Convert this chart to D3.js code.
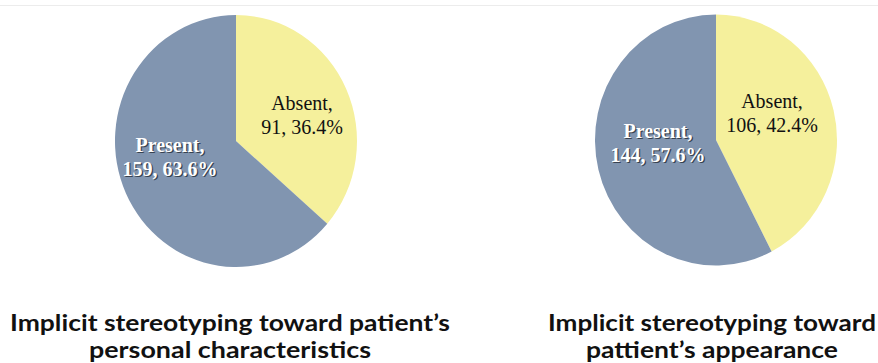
<!DOCTYPE html>
<html>
<head>
<meta charset="utf-8">
<script src="https://cdn.jsdelivr.net/npm/d3@7"></script>
<style>
  html, body { margin: 0; padding: 0; background: #fff; }
  svg { display: block; }
</style>
</head>
<body>
<svg id="chart" width="878" height="363"></svg>
<script>
const categories = ["Absent", "Present"];
const chart1Values = [91, 159];
const chart1Percents = ["36.4%", "63.6%"];
const chart2Values = [106, 144];
const chart2Percents = ["42.4%", "57.6%"];
const chart1Title = ["Implicit stereotyping toward patient\u2019s", "personal characteristics"];
const chart2Title = ["Implicit stereotyping toward", "pattient\u2019s appearance"];
const colors = ["#f5f09c", "#8195b0"];

const svg = d3.select("#chart");

svg.append("line").attr("x1", 0).attr("x2", 878).attr("y1", 5.5).attr("y2", 5.5)
  .attr("stroke", "#ececec").attr("stroke-width", 1);

const pies = [
  { values: chart1Values, pcts: chart1Percents, title: chart1Title, cx: 236, cy: 141, rx: 121, ry: 126,
    labelPos: [[302, 110], [170, 152]], titleX: 230, titleW: [440, 282] },
  { values: chart2Values, pcts: chart2Percents, title: chart2Title, cx: 716, cy: 140, rx: 121, ry: 125.5,
    labelPos: [[772, 108], [658, 138]], titleX: 712, titleW: [328, 252] }
];

const pieGen = d3.pie().sort(null).value(d => d);

pies.forEach(p => {
  const arc = d3.arc().innerRadius(0).outerRadius(p.rx);
  const g = svg.append("g")
    .attr("transform", `translate(${p.cx},${p.cy}) scale(1,${p.ry / p.rx})`);
  g.selectAll("path").data(pieGen(p.values)).join("path")
    .attr("d", arc)
    .attr("fill", (d, i) => colors[i]);

  categories.forEach((c, i) => {
    const [lx, ly] = p.labelPos[i];
    const lines = [c + ",", p.values[i] + ", " + p.pcts[i]];
    const isPresent = i === 1;
    lines.forEach((t, j) => {
      if (isPresent) {
        svg.append("text")
          .attr("x", lx + 1.3).attr("y", ly + j * 24 + 1.3)
          .attr("text-anchor", "middle")
          .attr("font-family", "'Liberation Serif', 'Times New Roman', serif")
          .attr("font-size", 20).attr("font-weight", "bold")
          .attr("fill", "#2b3440").attr("opacity", 0.85)
          .text(t);
      }
      svg.append("text")
        .attr("x", lx).attr("y", ly + j * 24)
        .attr("text-anchor", "middle")
        .attr("font-family", "'Liberation Serif', 'Times New Roman', serif")
        .attr("font-size", 20)
        .attr("font-weight", isPresent ? "bold" : "normal")
        .attr("fill", isPresent ? "#ffffff" : "#111111")
        .text(t);
    });
  });

  p.title.forEach((t, j) => {
    svg.append("text")
      .attr("x", p.titleX).attr("y", 331 + j * 27)
      .attr("text-anchor", "middle")
      .attr("font-family", "Lato, 'Open Sans', sans-serif")
      .attr("font-weight", "bold")
      .attr("font-size", 22)
      .attr("fill", "#111")
      .attr("textLength", p.titleW[j])
      .attr("lengthAdjust", "spacingAndGlyphs")
      .text(t);
  });
});
</script>
</body>
</html>
